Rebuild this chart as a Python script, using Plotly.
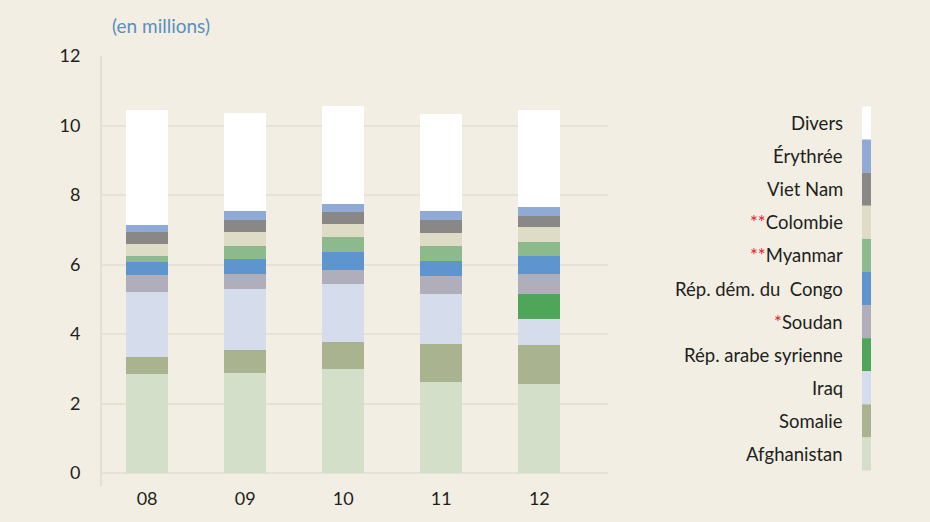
import plotly.graph_objects as go

years = ["08", "09", "10", "11", "12"]

series_names = ["Afghanistan", "Somalie", "Iraq", "Rép. arabe syrienne", "Soudan",
                "Rép. dém. du  Congo", "Myanmar", "Colombie", "Viet Nam", "Érythrée", "Divers"]
series_marks = ["", "", "", "", "*", "", "**", "**", "", "", ""]
series_colors = ["#d3dfc8", "#a9b38f", "#d5dcec", "#4fa65b", "#b1aebb",
                 "#5e95cf", "#8cba8c", "#dedcc6", "#8a8886", "#90aad6", "#ffffff"]

afghanistan = [2.84, 2.88, 2.99, 2.61, 2.56]
somalie = [0.49, 0.65, 0.77, 1.10, 1.12]
iraq = [1.87, 1.76, 1.67, 1.43, 0.75]
syrie = [0.0, 0.0, 0.0, 0.0, 0.71]
soudan = [0.49, 0.43, 0.40, 0.52, 0.58]
congo = [0.37, 0.43, 0.52, 0.43, 0.52]
myanmar = [0.18, 0.37, 0.43, 0.43, 0.40]
colombie = [0.34, 0.43, 0.38, 0.40, 0.43]
viet_nam = [0.35, 0.32, 0.34, 0.35, 0.32]
erythree = [0.20, 0.26, 0.23, 0.26, 0.28]
divers = [3.33, 2.84, 2.82, 2.79, 2.79]

series_values = [afghanistan, somalie, iraq, syrie, soudan, congo,
                 myanmar, colombie, viet_nam, erythree, divers]

y_ticks = [0, 2, 4, 6, 8, 10, 12]

BG = "#f2eee3"
FONT = "Lato, 'Open Sans', sans-serif"

fig = go.Figure()
for name, vals, col in zip(series_names, series_values, series_colors):
    fig.add_trace(go.Bar(x=years, y=vals, name=name, marker=dict(color=col, line=dict(width=0)),
                         width=0.43, showlegend=False))

# plot area in pixels
L, R, T, B = 102, 608, 56, 486
W, H = 930, 522

def px(xp):
    return (xp - L) / (R - L)

def py(yp):
    return (B - yp) / (B - T)

# custom legend: labels right-aligned, swatches on the right (top = Divers)
n = len(series_names)
step = 33.1
top_center = 123
for i in range(n):
    idx = n - 1 - i
    cy = top_center + i * step
    fig.add_shape(type="rect", xref="paper", yref="paper",
                  x0=px(862), x1=px(871), y0=py(cy + step / 2), y1=py(cy - step / 2),
                  fillcolor=series_colors[idx], line=dict(width=0), layer="above")
    mark = series_marks[idx]
    label = (f"<span style='color:#e8232a'>{mark}</span>" if mark else "") + series_names[idx]
    fig.add_annotation(text=label, xref="paper", yref="paper", x=px(845), y=py(cy),
                       xanchor="right", yanchor="middle", showarrow=False,
                       font=dict(size=18.5, color="#231f20", family=FONT))

fig.add_annotation(text="(en millions)", xref="paper", yref="paper", x=px(110), y=py(25),
                   xanchor="left", yanchor="middle", showarrow=False,
                   font=dict(size=19, color="#5a90bd", family=FONT))

fig.update_layout(
    width=W, height=H,
    margin=dict(l=L, r=W - R, t=T, b=H - B),
    paper_bgcolor=BG, plot_bgcolor=BG,
    barmode="stack",
    font=dict(family=FONT, size=18, color="#231f20"),
    showlegend=False,
)
# category spacing 98px: range width 5.16 over 506px
fig.update_xaxes(range=[-0.46, 4.7], showgrid=False, showline=False, zeroline=False,
                 ticks="", tickfont=dict(size=18, color="#231f20"))
fig.update_yaxes(range=[-0.37, 12], tickvals=y_ticks, showgrid=True, gridcolor="#e6e2d5",
                 gridwidth=2, zeroline=True, zerolinecolor="#e6e2d5", zerolinewidth=2,
                 showline=True, linecolor="#e3dfd2", linewidth=2, ticks="",
                 ticklabelstandoff=16, tickfont=dict(size=18, color="#231f20"))

fig.write_html("out.html", config={"displayModeBar": False},
               post_script="document.body.style.margin='0';document.body.style.background='%s';" % BG)
